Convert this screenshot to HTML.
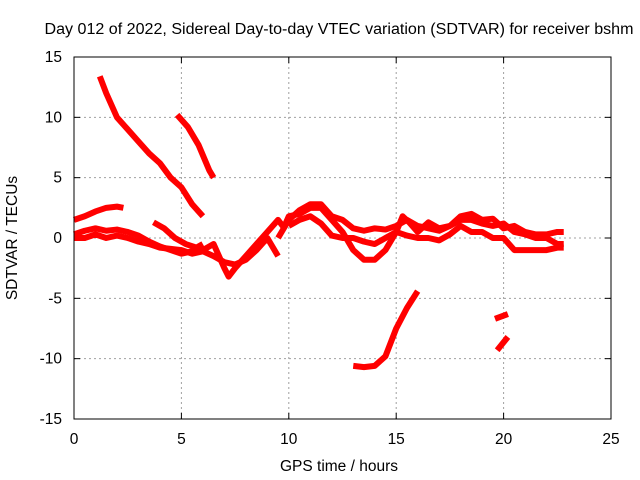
<!DOCTYPE html>
<html><head><meta charset="utf-8"><style>
body{margin:0;background:#fff}
svg{display:block;font-family:"Liberation Sans",sans-serif;font-size:15.5px}
</style></head><body>
<svg id="chart" width="640" height="480">
<rect width="640" height="480" fill="#fff"/>
<text x="339" y="34" text-anchor="middle" textLength="589" lengthAdjust="spacingAndGlyphs">Day 012 of 2022, Sidereal Day-to-day VTEC variation (SDTVAR) for receiver bshm</text>
<g id="grid"></g>
<g id="axes"></g>
<g id="series"></g>
<rect x="74" y="57" width="537" height="362" fill="none" stroke="#000" stroke-width="1"/>
<text x="339" y="471" text-anchor="middle">GPS time / hours</text>
<text transform="translate(17,238) rotate(-90)" text-anchor="middle">SDTVAR / TECUs</text>
</svg>
<script>
const xTicks=[0,5,10,15,20,25];
const yTicks=[-15,-10,-5,0,5,10,15];
const s1=[[1.2,13.4],[1.5,12],[2,10],[2.5,9],[3,8],[3.5,7],[4,6.2],[4.5,5],[5,4.2],[5.5,2.8],[6,1.8]];
const s2=[[4.8,10.2],[5.3,9.2],[5.8,7.7],[6.3,5.6],[6.5,5.0]];
const s3=[[0,1.5],[0.5,1.8],[1,2.2],[1.5,2.5],[2,2.6],[2.3,2.5]];
const s4=[[0,0.3],[0.5,0.6],[1,0.8],[1.5,0.6],[2,0.7],[2.5,0.5],[3,0.2],[3.5,-0.3],[4,-0.7],[4.5,-1],[5,-1.3],[5.5,-1.1],[6,-1],[6.5,-0.5],[7,-2.5],[7.2,-3.2],[7.5,-2.5],[8,-1.5],[8.5,-0.5],[9,0.5],[9.5,1.5],[9.8,0.8]];
const s5=[[0,0],[0.5,0],[1,0.3],[1.5,0],[2,0.2],[2.5,0],[3,-0.3],[3.5,-0.5],[4,-0.8],[4.5,-0.9],[5,-1],[5.5,-1.3],[6,-1.1],[6.5,-1.5],[7,-2],[7.5,-2.2],[8,-1.8],[8.5,-1],[9,0],[9.5,-1.5]];
const s6=[[3.7,1.3],[4.2,0.8],[4.7,0],[5.2,-0.5],[5.7,-0.8],[6,-0.5]];
const s7=[[9.8,1],[10,1.8],[10.5,2],[11,2.5],[11.5,2.5],[12,1.5],[12.5,0.5],[13,-1],[13.5,-1.8],[14,-1.8],[14.5,-1],[15,0.5],[15.3,1.8],[15.6,1.3],[16,0.5],[16.5,1.3],[17,0.8],[17.5,1],[18,1.8],[18.5,2],[19,1.5],[19.5,1.6],[20,0.8],[20.5,1],[21,0.5],[21.5,0.3],[22,0.3],[22.5,0.5],[22.8,0.5]];
const s8=[[10,1],[10.5,1.5],[11,1.8],[11.5,1.2],[12,0.2],[12.5,0],[13,0],[13.5,-0.3],[14,-0.5],[14.5,0],[15,0.5],[15.5,0.2],[16,0],[16.5,0],[17,-0.2],[17.5,0.3],[18,1],[18.5,0.5],[19,0.5],[19.5,0],[20,0],[20.5,-1],[21,-1],[21.5,-1],[22,-1],[22.5,-0.8],[22.8,-0.8]];
const s9=[[9.5,0],[10,1.5],[10.5,2.3],[11,2.8],[11.5,2.8],[12,1.8],[12.5,1.5],[13,0.8],[13.5,0.6],[14,0.8],[14.5,0.7],[15,1],[15.5,1.5],[16,1],[16.5,0.8],[17,0.6],[17.5,1],[18,1.5],[18.5,1.5],[19,1.2],[19.5,1],[20,1.2],[20.5,0.5],[21,0.3],[21.5,0],[22,0],[22.5,-0.5],[22.8,-0.5]];
const s10=[[13,-10.6],[13.5,-10.7],[14,-10.6],[14.5,-9.8],[15,-7.5],[15.5,-5.8],[16,-4.4]];
const s11=[[19.6,-6.7],[20.2,-6.3]];
const s12=[[19.7,-9.3],[20.2,-8.2]];
const allSeries=[s1,s2,s3,s4,s5,s6,s7,s8,s9,s10,s11,s12];
const X0=74,X1=611,Y0=419,Y1=57;
const xs=v=>X0+(v-0)/(25-0)*(X1-X0);
const ys=v=>Y0-(v+15)/30*(Y0-Y1);
const NS='http://www.w3.org/2000/svg';
function mk(tag,attrs,parent){const e=document.createElementNS(NS,tag);for(const k in attrs)e.setAttribute(k,attrs[k]);parent.appendChild(e);return e;}
const grid=document.getElementById('grid'),axes=document.getElementById('axes'),ser=document.getElementById('series');
xTicks.forEach(t=>{const x=xs(t);
 if(t>0&&t<25){const l=mk('line',{x1:x,x2:x,y1:Y1,y2:Y0,stroke:'#a0a0a0','stroke-dasharray':'2,3'},grid);
 
 }
 mk('line',{x1:x,x2:x,y1:Y0,y2:Y0-6,stroke:'#000'},axes);
 mk('line',{x1:x,x2:x,y1:Y1,y2:Y1+6,stroke:'#000'},axes);
 const tx=mk('text',{x:x,y:444,'text-anchor':'middle'},axes);tx.textContent=t;
 
 
});
yTicks.forEach(t=>{const y=ys(t);
 if(t>-15&&t<15){const l=mk('line',{x1:X0,x2:X1,y1:y,y2:y,stroke:'#a0a0a0','stroke-dasharray':'2,3'},grid);
 
 }
 mk('line',{x1:X0,x2:X0+6,y1:y,y2:y,stroke:'#000'},axes);
 mk('line',{x1:X1,x2:X1-6,y1:y,y2:y,stroke:'#000'},axes);
 const tx=mk('text',{x:62,y:y+5,'text-anchor':'end'},axes);tx.textContent=t;
 
 
});
allSeries.forEach((s,i)=>{
 const p=mk('polyline',{points:s.map(d=>xs(d[0])+','+ys(d[1])).join(' '),fill:'none',stroke:'#ff0000','stroke-width':6,'stroke-linejoin':'round','stroke-linecap':'butt'},ser);
 
 
});
</script>
</body></html>
